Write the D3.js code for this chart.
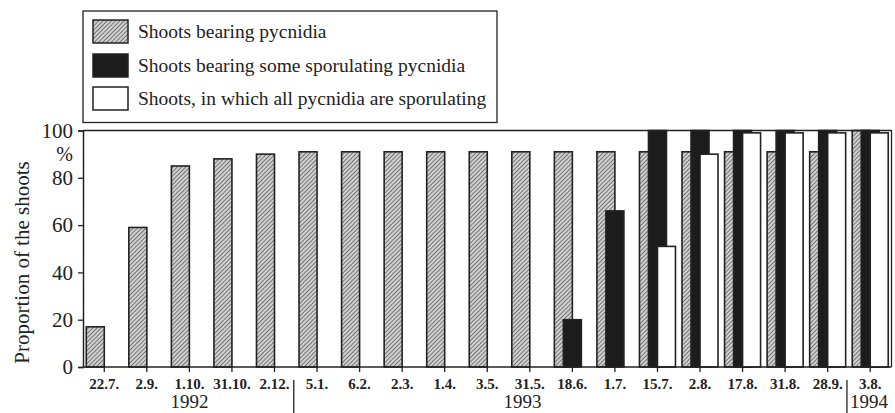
<!DOCTYPE html>
<html>
<head>
<meta charset="utf-8">
<script src="https://cdn.jsdelivr.net/npm/d3@7"></script>
<style>
  html, body { margin: 0; padding: 0; background: #fff; }
  svg { display: block; }
  text { font-family: "Liberation Serif", "DejaVu Serif", serif; fill: #222; }
</style>
</head>
<body>
<svg id="chart" width="895" height="413"></svg>
<script>
// ---- Data ----
const categories = ["22.7.", "2.9.", "1.10.", "31.10.", "2.12.",
  "5.1.", "6.2.", "2.3.", "1.4.", "3.5.", "31.5.", "18.6.", "1.7.", "15.7.", "2.8.", "17.8.", "31.8.", "28.9.",
  "3.8."];
const bearingPycnidia = [17, 59, 85, 88, 90, 91, 91, 91, 91, 91, 91, 91, 91, 91, 91, 91, 91, 91, 100];
const someSporulating = [null, null, null, null, null, null, null, null, null, null, null, 20, 66, 100, 100, 100, 100, 100, 100];
const allSporulating  = [null, null, null, null, null, null, null, null, null, null, null, null, null, 51, 90, 99, 99, 99, 99];
const yTicks = [0, 20, 40, 60, 80, 100];
const years = [
  { label: "1992", from: "22.7.", to: "2.12." },
  { label: "1993", from: "5.1.", to: "28.9." },
  { label: "1994", from: "3.8.", to: "3.8." }
];
const seriesNames = ["Shoots bearing pycnidia", "Shoots bearing some sporulating pycnidia", "Shoots, in which all pycnidia are sporulating"];

(function () {
// ---- Layout ----
const svg = d3.select("#chart");
const pLeft = 83, pRight = 891.5, pTop = 130.5, pBottom = 367;
const x = d3.scaleBand().domain(categories).range([pLeft, pRight]).padding(0);
const y = d3.scaleLinear().domain([0, 100]).range([pBottom, pTop]);
const barW = 18;
const offsets = [-18, -9, 0];
const ink = "#222";

// hatch pattern
const defs = svg.append("defs");
const pat = defs.append("pattern")
  .attr("id", "hatch").attr("patternUnits", "userSpaceOnUse")
  .attr("width", 3).attr("height", 3)
  .attr("patternTransform", "rotate(45)");
pat.append("rect").attr("width", 3).attr("height", 3).attr("fill", "#d0d0d0");
pat.append("line").attr("x1", 0).attr("y1", 0).attr("x2", 0).attr("y2", 3)
  .attr("stroke", "#444").attr("stroke-width", 1.3);

const fills = ["url(#hatch)", "#1c1c1c", "#ffffff"];
const seriesData = [bearingPycnidia, someSporulating, allSporulating];

// bars
seriesData.forEach((vals, s) => {
  svg.append("g").selectAll("rect")
    .data(categories.map((c, i) => ({ c, v: vals[i] })).filter(d => d.v != null))
    .join("rect")
    .attr("x", d => x(d.c) + x.bandwidth() / 2 + offsets[s])
    .attr("y", d => y(d.v))
    .attr("width", barW)
    .attr("height", d => y(0) - y(d.v))
    .attr("fill", fills[s])
    .attr("stroke", ink)
    .attr("stroke-width", 1.6);
});

// frame (top and right)
svg.append("path")
  .attr("d", `M${pLeft},${pTop}H${pRight}V${pBottom}`)
  .attr("fill", "none").attr("stroke", ink).attr("stroke-width", 1.3);

// y axis
const yAxis = svg.append("g").attr("transform", `translate(${pLeft},0)`)
  .call(d3.axisLeft(y).tickValues(yTicks).tickSize(5).tickPadding(5).tickFormat(d3.format("d")));
yAxis.select(".domain").attr("stroke", ink).attr("stroke-width", 1.5);
yAxis.selectAll(".tick line").attr("stroke", ink).attr("stroke-width", 1.3);
yAxis.selectAll(".tick text").attr("font-size", "21px").attr("font-family", "Liberation Serif").attr("fill", "#222");

svg.append("text").attr("x", pLeft - 10).attr("y", y(100) + 30.5)
  .attr("text-anchor", "end").attr("font-size", "20px").text("%");

// x axis
const xAxis = svg.append("g").attr("transform", `translate(0,${pBottom})`)
  .call(d3.axisBottom(x).tickSize(5).tickPadding(6));
xAxis.select(".domain").attr("d", `M${pLeft},0H${pRight}`).attr("stroke", ink).attr("stroke-width", 1.5);
xAxis.selectAll(".tick line").attr("stroke", ink).attr("stroke-width", 1.3);
xAxis.selectAll(".tick text").attr("font-size", "15px").attr("font-weight", "bold")
  .attr("font-family", "Liberation Serif").attr("fill", "#222");

// year labels & separators
years.forEach((yr, k) => {
  const x0 = x(yr.from), x1 = x(yr.to) + x.bandwidth();
  let cx = (x0 + x1) / 2;
  if (yr.label === "1993") cx = x0 + (x1 - x0) * 0.41;
  svg.append("text")
    .attr("x", yr.label === "1994" ? x0 + 1 : cx)
    .attr("y", 408)
    .attr("text-anchor", yr.label === "1994" ? "start" : "middle")
    .attr("font-size", "19px").text(yr.label);
  if (k > 0) {
    const sx = x0 - 2;
    svg.append("line").attr("x1", sx).attr("x2", sx).attr("y1", 380).attr("y2", 413)
      .attr("stroke", ink).attr("stroke-width", 1.3);
  }
});

// y title
svg.append("text")
  .attr("transform", `translate(29,${(153 + 372) / 2}) rotate(-90)`)
  .attr("text-anchor", "middle").attr("font-size", "21px")
  .text("Proportion of the shoots");

// legend
const lg = svg.append("g");
lg.append("rect").attr("x", 83).attr("y", 11).attr("width", 414).attr("height", 111.5)
  .attr("fill", "#fff").attr("stroke", ink).attr("stroke-width", 1.3);
const rowY = [20, 54, 87];
seriesNames.forEach((name, s) => {
  lg.append("rect").attr("x", 93).attr("y", rowY[s]).attr("width", 35).attr("height", 23)
    .attr("fill", fills[s]).attr("stroke", ink).attr("stroke-width", 1.5);
  lg.append("text").attr("x", 138).attr("y", rowY[s] + 18)
    .attr("font-size", "19.5px").text(name);
});
})();
</script>
</body>
</html>
